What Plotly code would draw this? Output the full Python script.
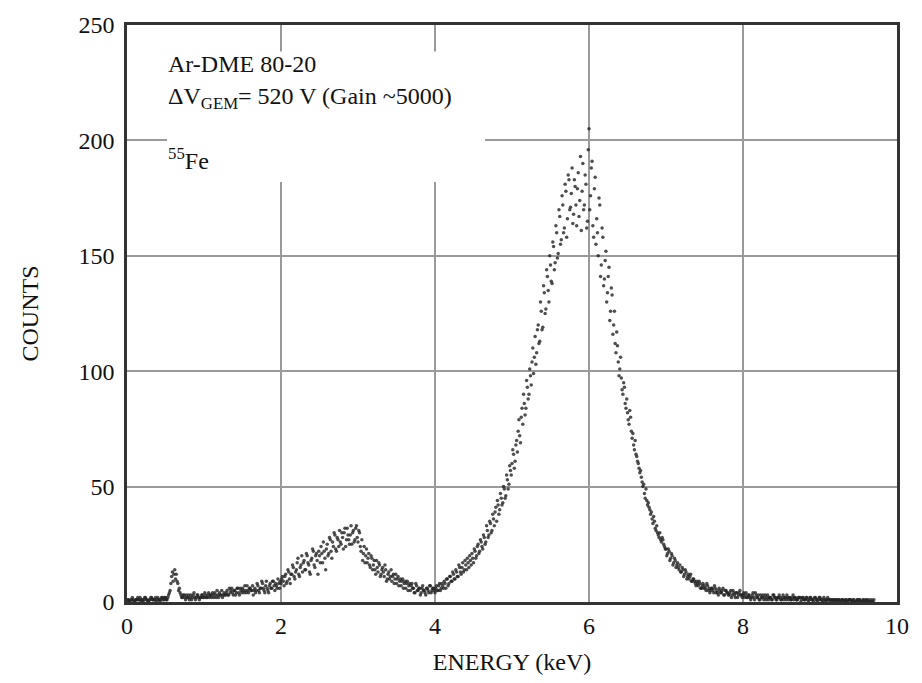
import plotly.graph_objects as go

# Channel width of the spectrum (keV per bin)
ENERGY_STEP_KEV = 0.01

# Counts per channel, one list per keV (100 channels each)
counts_0_1 = [0, 1, 1, 0, 0, 1, 1, 2, 1, 0, 0, 1, 1, 1, 2, 1, 1, 2, 0, 1, 1, 0, 1, 2, 2, 1, 1, 0, 0, 1,
              1, 2, 2, 1, 1, 1, 1, 2, 0, 1, 2, 1, 1, 0, 1, 2, 2, 1, 1, 2,
              2, 1, 1, 2, 3, 4, 5, 8, 11, 13, 9, 12, 14, 10, 12, 9, 8, 5, 6, 4, 3, 2, 2, 3, 3, 2,
              1, 3, 2, 2, 3, 1, 2, 3, 1, 2, 3, 4, 2, 1, 2, 3, 3, 2, 1, 2, 2, 3, 3, 2]
counts_1_2 = [2, 4, 3, 2, 2, 3, 4, 2, 3, 3, 2, 4, 3, 2, 4, 3, 2, 5, 3, 2, 4, 3, 3, 5, 2, 3, 4, 3, 3, 4,
              5, 3, 3, 6, 4, 5, 6, 4, 3, 5, 5, 3, 4, 6, 6, 4, 3, 6, 5, 4,
              6, 5, 4, 7, 5, 4, 7, 5, 4, 6, 6, 5, 5, 7, 3, 5, 6, 4, 5, 8, 7, 5, 4, 6, 6, 9,
              8, 6, 5, 4, 7, 9, 6, 5, 4, 7, 8, 6, 6, 9, 9, 7, 5, 8, 7, 6, 10, 8, 6, 9]
counts_2_3 = [8, 10, 11, 9, 7, 11, 12, 8, 9, 14, 13, 10, 8, 12, 12, 16, 15, 11, 10, 13, 14, 17, 19, 12,
              11, 15, 16, 20, 13, 17, 18, 14, 14, 21, 20, 17, 16, 13, 12, 18, 19, 23, 22, 16, 15, 20,
              21, 18, 12, 22,
              20, 17, 24, 21, 17, 26, 22, 19, 14, 23, 25, 20, 21, 28, 27, 22, 19, 26, 24, 30, 29, 23,
              22, 28, 27, 24, 31, 26, 25, 30, 28, 23, 30, 32, 24, 27, 32, 29, 27, 25, 29, 33, 25, 30,
              31, 26, 27, 32, 33, 28]
counts_3_4 = [26, 31, 30, 24, 22, 27, 18, 21, 24, 17, 20, 23, 17, 19, 21, 16, 15, 20, 19, 14, 16, 18,
              14, 12, 18, 15, 13, 17, 16, 11, 12, 14, 15, 13, 11, 16, 14, 9, 10, 12, 13, 10, 11, 14,
              9, 11, 12, 8, 10, 12,
              8, 10, 11, 7, 9, 10, 7, 9, 10, 6, 8, 9, 6, 8, 9, 5, 7, 8, 5, 7, 8, 6, 6, 4, 4, 8, 7, 5,
              5, 6, 6, 3, 4, 6, 7, 5, 5, 4, 3, 6, 6, 5, 4, 7, 7, 4, 5, 6, 6, 5]
counts_4_5 = [4, 6, 7, 5, 5, 7, 8, 5, 6, 8, 7, 6, 9, 8, 6, 10, 10, 7, 8, 11, 11, 9, 9, 13, 12, 10,
              10, 14, 13, 11, 11, 16, 15, 13, 12, 15, 17, 13, 14, 18, 16, 14, 19, 17, 15, 20, 18, 16,
              21, 19,
              17, 23, 22, 19, 20, 24, 25, 21, 22, 27, 26, 24, 23, 29, 28, 25, 26, 33, 31, 28, 29, 35,
              34, 30, 31, 38, 36, 33, 39, 41, 35, 44, 42, 38, 40, 47, 45, 42, 43, 50, 49, 45, 46, 55,
              53, 49, 51, 59, 57, 55]
counts_5_6 = [60, 66, 64, 58, 61, 68, 70, 65, 74, 79, 72, 69, 80, 84, 77, 90, 86, 81, 84, 96, 93, 88,
              90, 101, 98, 94, 104, 110, 99, 106, 115, 103, 108, 118, 120, 112, 113, 130, 126, 118,
              119, 137, 134, 125, 127, 144, 141, 135, 130, 150,
              146, 139, 138, 156, 154, 144, 147, 163, 160, 149, 151, 170, 167, 155, 157, 176, 172, 160,
              162, 181, 178, 158, 166, 185, 183, 170, 171, 177, 188, 164, 168, 183, 180, 172, 163, 179,
              186, 167, 174, 193, 161, 178, 190, 170, 172, 185, 181, 162, 165, 196]
counts_6_7 = [205, 170, 176, 188, 191, 163, 158, 179, 184, 155, 166, 160, 150, 175, 172, 141, 146, 162,
              158, 137, 140, 148, 152, 130, 134, 141, 145, 122, 126, 136, 133, 116, 120, 126, 112, 108,
              117, 111, 104, 98, 101, 106, 97, 92, 90, 95, 93, 86, 84, 88,
              82, 79, 77, 83, 80, 74, 71, 73, 68, 66, 70, 64, 63, 61, 60, 58, 56, 57, 54, 52, 50, 51,
              47, 45, 49, 44, 42, 43, 41, 40, 38, 39, 36, 34, 37, 35, 32, 31, 33, 30, 29, 28, 30, 27,
              26, 28, 27, 25, 24, 23]
counts_7_8 = [23, 20, 21, 23, 22, 18, 19, 21, 20, 16, 17, 19, 18, 15, 16, 17, 15, 14, 16, 13, 13, 15,
              14, 11, 12, 14, 13, 10, 11, 12, 10, 11, 12, 9, 9, 10, 10, 9, 8, 7, 9, 8, 7, 9, 8, 6,
              6, 7, 8, 6,
              7, 6, 5, 8, 7, 5, 6, 4, 5, 6, 6, 5, 4, 7, 6, 4, 5, 4, 3, 6, 5, 4, 4, 5, 6, 3, 3, 5,
              5, 4, 4, 3, 3, 4, 5, 2, 3, 5, 4, 3, 2, 4, 4, 2, 3, 4, 5, 3, 3, 2]
counts_8_9 = [3, 4, 2, 3, 4, 2, 2, 3, 3, 2, 1, 2, 3, 4, 2, 1, 4, 3, 2, 2, 3, 1, 1, 3, 2, 2, 3, 1,
              2, 3, 1, 2, 3, 1, 2, 2, 2, 1, 1, 3, 3, 2, 2, 1, 1, 2, 2, 3, 2, 1,
              1, 2, 3, 1, 2, 2, 1, 3, 2, 1, 2, 2, 1, 1, 2, 3, 1, 2, 2, 1, 1, 1, 2, 2, 2, 0,
              1, 2, 2, 1, 1, 1, 2, 2, 1, 0, 1, 2, 2, 1, 1, 1, 0, 2, 2, 1, 1, 0, 1, 2]
counts_9_10 = [2, 1, 1, 0, 1, 2, 0, 1, 1, 0, 2, 1, 1, 1, 0, 1, 1, 0, 1, 1, 0, 1, 1, 0, 1, 1, 0, 0,
               1, 1, 1, 0, 0, 1, 1, 0, 0, 1, 1, 1, 1, 0, 0, 1, 1, 0, 0, 0, 1, 1, 0, 1, 1, 0, 0, 0,
               1, 1, 0, 0, 1, 1, 0, 0, 1, 0, 0, 1, 0, 0, 1]

x_tickvals = [0, 2, 4, 6, 8, 10]
y_tickvals = [0, 50, 100, 150, 200, 250]

counts = (counts_0_1 + counts_1_2 + counts_2_3 + counts_3_4 + counts_4_5 +
          counts_5_6 + counts_6_7 + counts_7_8 + counts_8_9 + counts_9_10)
energy = [round(i * ENERGY_STEP_KEV, 2) for i in range(len(counts))]

FONT = "Liberation Serif"
TXT = "#111111"
fig = go.Figure()
fig.add_trace(go.Scatter(
    x=energy, y=counts, mode="markers",
    marker=dict(size=3.5, color="#222222", opacity=0.8, line=dict(width=0)),
    cliponaxis=False, showlegend=False,
))

# white box behind the annotation text, interrupting the grid
fig.add_shape(type="rect", xref="x", yref="y", x0=0.52, x1=4.65, y0=182, y1=238.5,
              fillcolor="white", line=dict(width=0), layer="between")

ann_font = dict(family=FONT, size=24, color=TXT)
fig.add_annotation(x=0.5, y=233, xref="x", yref="y", xanchor="left", yanchor="middle",
                   text="Ar-DME 80-20", showarrow=False, font=ann_font)
fig.add_annotation(x=0.5, y=218.5, xref="x", yref="y", xanchor="left", yanchor="middle",
                   text="ΔV<sub>GEM</sub>= 520 V (Gain ~5000)", showarrow=False, font=ann_font)
fig.add_annotation(x=0.5, y=192, xref="x", yref="y", xanchor="left", yanchor="middle",
                   text="<sup>55</sup>Fe", showarrow=False, font=ann_font)

axis_common = dict(
    showgrid=True, gridcolor="#9a9a9a", gridwidth=2,
    showline=True, linecolor="#333333", linewidth=2.5, mirror=True,
    zeroline=False, ticks="", tickfont=dict(family=FONT, size=24, color=TXT),
    title_font=dict(family=FONT, size=24, color=TXT),
)
fig.update_xaxes(range=[0, 10], tickvals=x_tickvals, title_text="ENERGY (keV)",
                 title_standoff=16, **axis_common)
fig.update_yaxes(range=[0, 250], tickvals=y_tickvals, title_text="COUNTS",
                 title_standoff=34, ticklabelstandoff=5, **axis_common)

fig.update_layout(
    width=922, height=683,
    margin=dict(l=127, r=25, t=18, b=81),
    paper_bgcolor="white", plot_bgcolor="white",
)
fig.write_html("out.html")
